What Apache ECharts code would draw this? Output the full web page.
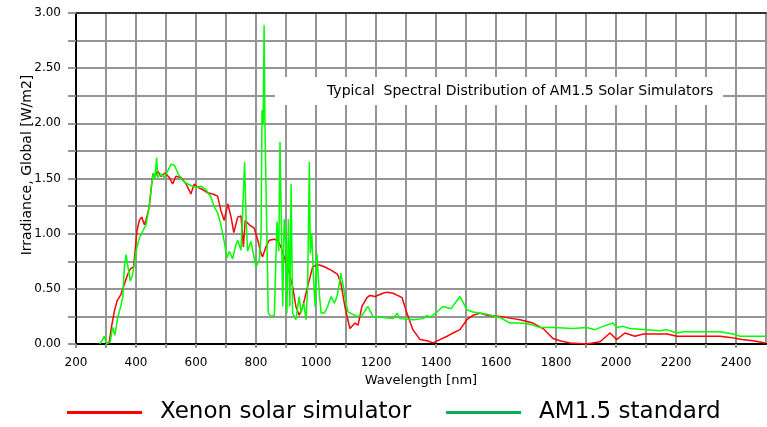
<!DOCTYPE html>
<html>
<head>
<meta charset="utf-8">
<script src="https://cdn.jsdelivr.net/npm/echarts@6/dist/echarts.min.js"></script>
<style>
  html, body { margin: 0; padding: 0; background: #fff; }
  #chart { width: 767px; height: 427px; }
</style>
</head>
<body>
<div id="chart"></div>
<script>
(function () {
  'use strict';

  var xenonWl = [300, 311, 318, 328, 337, 350, 361, 372, 381, 392, 398, 403, 411, 419, 428, 433, 444, 450, 456, 464,
    472, 483, 497, 511, 522, 533, 550, 567, 583, 594, 606, 622, 639, 656, 672, 683, 694, 706, 717, 726,
    739, 750, 758, 764, 778, 794, 806, 817, 822, 833, 844, 861, 872, 883, 894, 911, 922, 933, 944, 956,
    972, 989, 1006, 1028, 1050, 1072, 1083, 1097, 1113, 1130, 1140, 1153, 1170, 1180, 1197, 1223, 1237, 1257, 1287, 1303,
    1323, 1347, 1370, 1390, 1413, 1437, 1457, 1480, 1503, 1523, 1547, 1570, 1613, 1657, 1680, 1723, 1757, 1790, 1813, 1847,
    1902, 1947, 1980, 2002, 2030, 2063, 2091, 2170, 2203, 2347, 2380, 2420, 2457, 2497];
  var xenonVal = [0, 0.02, 0.15, 0.30, 0.39, 0.45, 0.54, 0.63, 0.68, 0.70, 0.87, 1.02, 1.12, 1.15, 1.08, 1.12, 1.24, 1.39, 1.54, 1.52,
    1.57, 1.52, 1.55, 1.51, 1.45, 1.52, 1.51, 1.45, 1.36, 1.45, 1.42, 1.40, 1.37, 1.36, 1.34, 1.21, 1.12, 1.27, 1.15, 1.01,
    1.15, 1.16, 0.88, 1.12, 1.08, 1.05, 0.94, 0.82, 0.79, 0.88, 0.94, 0.95, 0.94, 0.88, 0.79, 0.64, 0.52, 0.34, 0.26, 0.34,
    0.52, 0.70, 0.72, 0.70, 0.67, 0.63, 0.55, 0.33, 0.14, 0.19, 0.17, 0.34, 0.42, 0.44, 0.43, 0.46, 0.47, 0.46, 0.42, 0.28,
    0.13, 0.04, 0.03, 0.01, 0.04, 0.07, 0.10, 0.13, 0.22, 0.26, 0.28, 0.26, 0.25, 0.23, 0.22, 0.19, 0.14, 0.05, 0.03, 0.01,
    0, 0.02, 0.10, 0.04, 0.10, 0.07, 0.09, 0.09, 0.07, 0.07, 0.06, 0.04, 0.03, 0.01];

  var am15Wl = [280, 294, 303, 314, 322, 330, 339, 348, 356, 361, 367, 372, 381, 389, 394, 400, 411, 422, 433, 444,
    452, 458, 463, 469, 472, 483, 494, 506, 517, 528, 541, 556, 572, 589, 603, 617, 633, 650, 661, 672,
    683, 694, 703, 711, 722, 733, 739, 750, 756, 762, 767, 772, 783, 789, 800, 811, 817, 820, 824, 827,
    830, 836, 841, 850, 861, 870, 876, 880, 883, 889, 894, 900, 903, 908, 913, 917, 922, 933, 944, 950,
    959, 967, 972, 978, 981, 986, 991, 997, 1003, 1011, 1017, 1028, 1039, 1050, 1061, 1070, 1078, 1083, 1091, 1100,
    1107, 1137, 1153, 1173, 1190, 1223, 1257, 1270, 1280, 1323, 1357, 1370, 1380, 1403, 1423, 1450, 1463, 1480, 1490, 1503,
    1523, 1570, 1613, 1647, 1680, 1713, 1747, 1790, 1857, 1902, 1930, 1957, 1990, 2002, 2024, 2046, 2102, 2147, 2169, 2202,
    2224, 2347, 2391, 2413, 2497];
  var am15Val = [0, 0.07, 0, 0.02, 0.15, 0.08, 0.24, 0.33, 0.42, 0.69, 0.81, 0.72, 0.57, 0.63, 0.72, 0.84, 0.96, 1.02, 1.08, 1.24,
    1.45, 1.55, 1.50, 1.69, 1.51, 1.54, 1.51, 1.57, 1.63, 1.62, 1.54, 1.48, 1.45, 1.43, 1.42, 1.43, 1.40, 1.33, 1.24, 1.19,
    1.08, 0.93, 0.78, 0.84, 0.77, 0.90, 0.94, 0.85, 1.24, 1.65, 1.12, 0.84, 0.93, 0.94, 0.70, 0.76, 1.00, 2.12, 1.99, 2.89,
    1.96, 1.02, 0.28, 0.25, 0.26, 1.11, 0.84, 1.83, 1.36, 0.34, 1.13, 0.88, 0.28, 1.13, 0.34, 1.45, 0.28, 0.22, 0.43, 0.28,
    0.37, 0.22, 0.52, 1.65, 0.82, 1.00, 0.64, 0.34, 0.82, 0.46, 0.28, 0.28, 0.34, 0.43, 0.37, 0.43, 0.55, 0.64, 0.52, 0.37,
    0.29, 0.25, 0.26, 0.34, 0.25, 0.24, 0.23, 0.28, 0.23, 0.22, 0.23, 0.26, 0.24, 0.29, 0.34, 0.32, 0.37, 0.43, 0.38, 0.31,
    0.29, 0.27, 0.24, 0.19, 0.19, 0.18, 0.15, 0.15, 0.14, 0.15, 0.13, 0.16, 0.19, 0.15, 0.16, 0.14, 0.13, 0.12, 0.13, 0.10,
    0.11, 0.11, 0.09, 0.07, 0.07];

  var seriesNames = ['Xenon solar simulator', 'AM1.5 standard'];
  var chartTitle = 'Typical  Spectral Distribution of AM1.5 Solar Simulators';
  var xName = 'Wavelength [nm]';
  var yName = 'Irradiance, Global [W/m2]';

  function pairs(xs, ys) {
    var out = [];
    for (var i = 0; i < xs.length; i += 1) {
      out.push([xs[i], ys[i]]);
    }
    return out;
  }

  var font = 'DejaVu Sans';
  var gridColor = '#959595';

  var chart = echarts.init(document.getElementById('chart'), null, { renderer: 'canvas' });

  chart.setOption({
    animation: false,
    backgroundColor: '#fff',
    title: {
      text: chartTitle,
      left: 275,
      top: 77,
      padding: [7, 10, 7, 52],
      backgroundColor: '#fff',
      textStyle: { fontFamily: font, fontSize: 14, fontWeight: 'normal', color: '#000' }
    },
    grid: { left: 76, right: 1, top: 13, bottom: 83 },
    legend: {
      left: 62,
      top: 396,
      icon: 'rect',
      itemWidth: 75,
      itemHeight: 3,
      itemGap: 35,
      textStyle: { fontFamily: font, fontSize: 23, color: '#000', padding: [0, 0, 0, 13] },
      data: [
        { name: seriesNames[0], itemStyle: { color: '#ff0000' } },
        { name: seriesNames[1], itemStyle: { color: '#00b050' } }
      ]
    },
    xAxis: [{
      type: 'value',
      min: 200,
      max: 2500,
      interval: 100,
      name: xName,
      nameLocation: 'middle',
      nameGap: 29,
      nameTextStyle: { fontFamily: font, fontSize: 13, color: '#000' },
      axisLine: { show: true, lineStyle: { color: '#000', width: 2 } },
      axisTick: { show: true, length: 4, lineStyle: { color: gridColor, width: 2 } },
      axisLabel: {
        margin: 13,
        fontFamily: font,
        fontSize: 12,
        color: '#000',
        showMaxLabel: false,
        formatter: function (v) { return v % 200 === 0 ? String(v) : ''; }
      },
      splitLine: { show: true, lineStyle: { color: gridColor, width: 2 } }
    }, {
      type: 'value',
      position: 'top',
      min: 200,
      max: 2500,
      axisLine: { show: true, lineStyle: { color: '#333', width: 2 } },
      axisTick: { show: false },
      axisLabel: { show: false },
      splitLine: { show: false }
    }],
    yAxis: {
      type: 'value',
      min: 0,
      max: 3,
      interval: 0.25,
      axisLine: { show: true, lineStyle: { color: '#000', width: 2 } },
      axisTick: { show: true, length: 8, lineStyle: { color: gridColor, width: 2 } },
      axisLabel: {
        margin: 15,
        fontFamily: font,
        fontSize: 12,
        color: '#000',
        formatter: function (v) { return Math.abs(v * 2 - Math.round(v * 2)) < 1e-9 ? v.toFixed(2) : ''; }
      },
      splitLine: { show: true, lineStyle: { color: gridColor, width: 2 } }
    },
    graphic: [{
      type: 'text',
      x: 27,
      y: 165,
      rotation: Math.PI / 2,
      style: {
        text: yName,
        align: 'center',
        verticalAlign: 'middle',
        fontFamily: font,
        fontSize: 14,
        fill: '#000'
      }
    }],
    series: [{
      name: seriesNames[0],
      type: 'line',
      showSymbol: false,
      symbol: 'none',
      data: pairs(xenonWl, xenonVal),
      itemStyle: { color: '#ff0000' },
      lineStyle: { color: '#ff0000', width: 1.5 }
    }, {
      name: seriesNames[1],
      type: 'line',
      showSymbol: false,
      symbol: 'none',
      data: pairs(am15Wl, am15Val),
      itemStyle: { color: '#00ff00' },
      lineStyle: { color: '#00ff00', width: 1.5 }
    }]
  });
})();
</script>
</body>
</html>
